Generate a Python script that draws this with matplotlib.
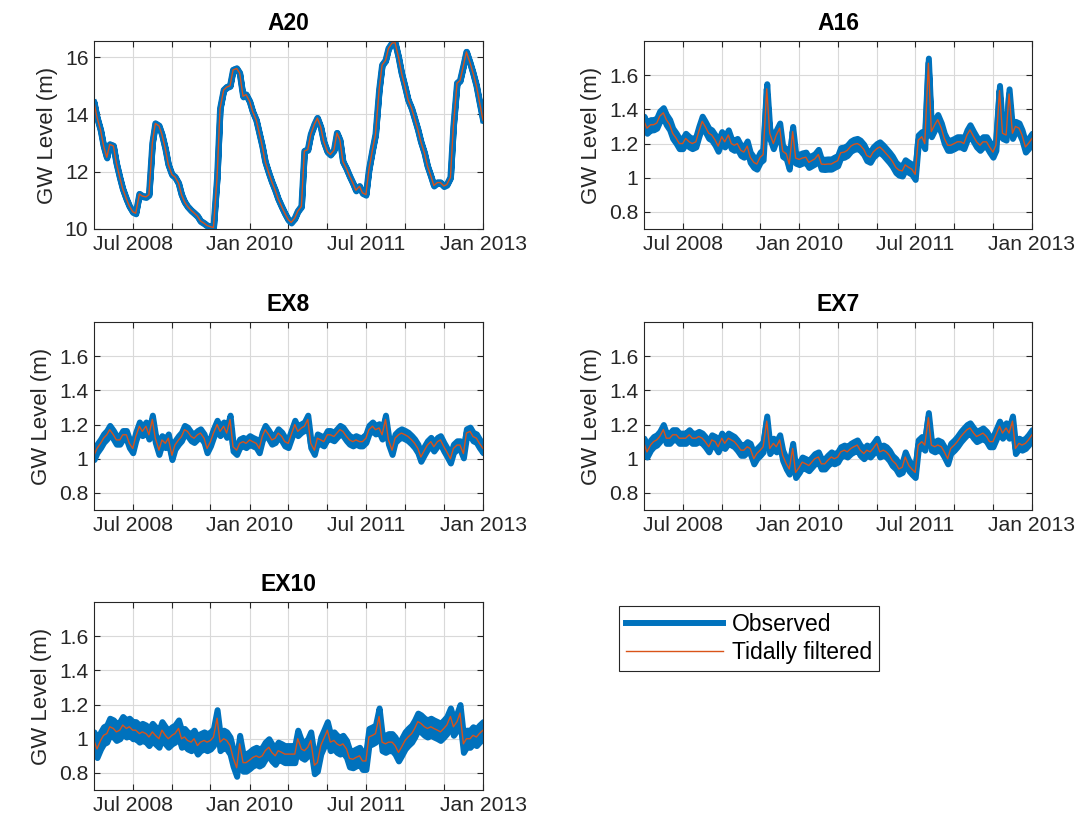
import numpy as np
import pandas as pd
import matplotlib
matplotlib.use('Agg')
import matplotlib.pyplot as plt
from matplotlib.ticker import FuncFormatter

plt.rcParams['font.family'] = ['Liberation Sans', 'DejaVu Sans']

# semi-monthly samples, Jan 2008 - Jan 2013 (121 points)
dates = pd.date_range('2008-01-01', '2013-01-01', freq='SMS')

stations = ['A20', 'A16', 'EX8', 'EX7', 'EX10']

# tidally filtered levels (m)
a20 = [14.42, 13.9, 13.45, 12.9, 12.5, 12.95, 12.9, 12.3, 11.8, 11.4, 11.05, 10.8,
       10.6, 10.55, 11.22, 11.15, 11.12, 11.2, 13.0, 13.68, 13.6, 13.3, 12.8, 12.25,
       11.9, 11.82, 11.6, 11.2, 10.95, 10.79, 10.65, 10.56, 10.45, 10.28, 10.2, 10.12,
       10.08, 10.05, 11.8, 14.2, 14.85, 14.95, 15.0, 15.55, 15.6, 15.44, 14.63, 14.69,
       14.45, 14.1, 13.8, 13.35, 12.9, 12.35, 11.95, 11.65, 11.35, 11.05, 10.77, 10.55,
       10.33, 10.23, 10.38, 10.62, 10.79, 12.72, 12.77, 13.3, 13.65, 13.87, 13.55, 13.05,
       12.7, 12.6, 12.75, 13.35, 13.1, 12.35, 12.1, 11.85, 11.6, 11.35, 11.49, 11.26,
       11.2, 12.07, 12.77, 13.3, 14.85, 15.72, 15.88, 16.3, 16.49, 16.5, 16.0, 15.45,
       14.95, 14.51, 14.2, 13.85, 13.47, 13.05, 12.65, 12.2, 11.85, 11.52, 11.62, 11.62,
       11.5, 11.55, 11.8, 13.6, 15.09, 15.18, 15.7, 16.18, 15.8, 15.45, 15.0, 14.45,
       13.8]

a16 = [1.33, 1.29, 1.31, 1.31, 1.32, 1.36, 1.38, 1.34, 1.31, 1.26, 1.23, 1.20,
       1.20, 1.23, 1.21, 1.20, 1.21, 1.27, 1.33, 1.30, 1.26, 1.25, 1.22, 1.185,
       1.24, 1.21, 1.25, 1.20, 1.19, 1.20, 1.16, 1.15, 1.185, 1.12, 1.09, 1.08,
       1.12, 1.135, 1.52, 1.26, 1.20, 1.25, 1.29, 1.155, 1.14, 1.08, 1.27, 1.115,
       1.107, 1.115, 1.12, 1.09, 1.10, 1.11, 1.136, 1.08, 1.078, 1.08, 1.08, 1.09,
       1.10, 1.146, 1.15, 1.16, 1.185, 1.195, 1.20, 1.19, 1.165, 1.13, 1.12, 1.15,
       1.17, 1.18, 1.16, 1.14, 1.12, 1.097, 1.06, 1.045, 1.04, 1.075, 1.06, 1.05,
       1.02, 1.22, 1.24, 1.20, 1.67, 1.27, 1.31, 1.34, 1.29, 1.23, 1.19, 1.19,
       1.20, 1.21, 1.21, 1.20, 1.25, 1.28, 1.24, 1.21, 1.19, 1.21, 1.21, 1.18,
       1.15, 1.19, 1.51, 1.26, 1.25, 1.49, 1.26, 1.30, 1.29, 1.25, 1.18, 1.20,
       1.23]

ex8 = [1.02, 1.06, 1.09, 1.12, 1.14, 1.17, 1.14, 1.11, 1.11, 1.14, 1.14, 1.09,
       1.06, 1.13, 1.19, 1.16, 1.19, 1.14, 1.23, 1.12, 1.05, 1.11, 1.09, 1.12,
       1.02, 1.08, 1.11, 1.13, 1.17, 1.16, 1.13, 1.12, 1.14, 1.15, 1.12, 1.06,
       1.10, 1.15, 1.20, 1.16, 1.19, 1.15, 1.23, 1.07, 1.05, 1.09, 1.10, 1.09,
       1.11, 1.10, 1.09, 1.06, 1.13, 1.17, 1.14, 1.11, 1.12, 1.15, 1.13, 1.10,
       1.09, 1.14, 1.20, 1.16, 1.18, 1.19, 1.23, 1.09, 1.05, 1.12, 1.11, 1.10,
       1.14, 1.14, 1.13, 1.15, 1.17, 1.16, 1.13, 1.11, 1.10, 1.11, 1.10, 1.10,
       1.12, 1.17, 1.19, 1.17, 1.18, 1.14, 1.23, 1.11, 1.05, 1.12, 1.14, 1.15,
       1.14, 1.13, 1.11, 1.09, 1.06, 1.01, 1.05, 1.08, 1.10, 1.07, 1.10, 1.11,
       1.07, 1.04, 1.00, 1.06, 1.08, 1.08, 1.03, 1.15, 1.16, 1.13, 1.12, 1.09,
       1.06]

ex7 = [1.09, 1.04, 1.08, 1.10, 1.11, 1.13, 1.17, 1.12, 1.12, 1.14, 1.14, 1.12,
       1.12, 1.12, 1.14, 1.12, 1.12, 1.13, 1.12, 1.10, 1.07, 1.11, 1.10, 1.07,
       1.12, 1.09, 1.12, 1.11, 1.10, 1.08, 1.05, 1.05, 1.07, 1.06, 1.00, 1.03,
       1.05, 1.07, 1.22, 1.06, 1.09, 1.07, 1.11, 1.02, 0.97, 0.94, 1.06, 0.92,
       0.95, 0.98, 0.97, 0.96, 0.98, 1.00, 1.01, 0.97, 0.97, 0.99, 1.01, 1.00,
       1.01, 1.04, 1.05, 1.04, 1.06, 1.07, 1.08, 1.05, 1.03, 1.05, 1.04, 1.06,
       1.09, 1.04, 1.05, 1.04, 1.02, 0.99, 0.97, 0.94, 0.95, 1.01, 0.96, 0.94,
       0.92, 1.08, 1.10, 1.08, 1.24, 1.08, 1.07, 1.08, 1.07, 1.04, 1.00, 1.06,
       1.08, 1.10, 1.13, 1.15, 1.17, 1.18, 1.15, 1.13, 1.14, 1.15, 1.13, 1.10,
       1.10, 1.14, 1.19, 1.15, 1.18, 1.15, 1.22, 1.06, 1.09, 1.08, 1.09, 1.11,
       1.14]

ex10 = [0.99, 0.94, 0.99, 1.02, 1.03, 1.07, 1.06, 1.04, 1.05, 1.08, 1.06, 1.07,
        1.05, 1.05, 1.03, 1.04, 1.03, 1.01, 1.04, 1.02, 1.00, 1.05, 1.02, 1.00,
        1.02, 1.03, 1.06, 1.00, 1.01, 0.99, 0.98, 1.00, 0.96, 0.98, 0.99, 0.98,
        0.99, 1.01, 1.12, 0.98, 1.00, 0.99, 0.96, 0.89, 0.83, 0.97, 0.86, 0.86,
        0.875, 0.89, 0.90, 0.89, 0.90, 0.93, 0.95, 0.92, 0.90, 0.93, 0.92, 0.91,
        0.91, 0.91, 0.91, 1.00, 0.94, 0.93, 0.95, 0.99, 0.845, 0.86, 0.96, 1.00,
        1.05, 0.98, 0.99, 0.97, 0.96, 0.97, 0.94, 0.885, 0.88, 0.89, 0.90, 0.87,
        0.87, 1.01, 1.02, 1.03, 1.13, 0.98, 0.97, 0.98, 0.98, 0.96, 0.92, 0.95,
        0.99, 1.01, 1.03, 1.06, 1.10, 1.09, 1.07, 1.06, 1.07, 1.06, 1.05, 1.04,
        1.06, 1.08, 1.13, 1.07, 1.10, 1.15, 0.97, 1.00, 1.00, 1.02, 1.01, 1.03,
        1.05]

filtered = [a20, a16, ex8, ex7, ex10]

# half of the tidal swing seen in the observed record (m)
tide_half_range = [0.02, 0.03, 0.025, 0.03, 0.05]

tick_dates = pd.date_range('2008-07-01', '2013-01-01', freq='6MS')
tick_labels = ['Jul 2008', '', '', 'Jan 2010', '', '', 'Jul 2011', '', '', 'Jan 2013']

W, H = 1086.0, 816.0
# axes boxes in pixels: left, top, width, height
boxes = [(94, 41, 389, 188), (644, 41, 388, 188),
         (94, 322, 389, 188), (644, 322, 388, 188),
         (94, 602, 389, 188)]

blue = '#0072BD'
orange = '#D95319'
dark = '#262626'

fig = plt.figure(figsize=(10.86, 8.16), dpi=100)

axes = []
for i, name in enumerate(stations):
    l, t, w, h = boxes[i]
    ax = fig.add_axes([l / W, 1 - (t + h) / H, w / W, h / H])
    y = np.array(filtered[i])
    d = tide_half_range[i]

    ax.fill_between(dates, y - d, y + d, facecolor=blue, edgecolor=blue, lw=4.3)
    ax.plot(dates, y, color=blue, lw=4.3, solid_joinstyle='round', label='Observed')
    ax.plot(dates, y, color=orange, lw=1.0, label='Tidally filtered')

    ax.set_xlim(dates[0], dates[-1])
    if name == 'A20':
        ax.set_ylim(10, 16.56)
        ax.set_yticks([10, 12, 14, 16])
    else:
        ax.set_ylim(0.7, 1.8)
        ax.set_yticks([0.8, 1.0, 1.2, 1.4, 1.6])
    ax.yaxis.set_major_formatter(FuncFormatter(lambda v, p: '%g' % v))
    ax.set_xticks(tick_dates)
    ax.set_xticklabels(tick_labels)

    ax.grid(True, color='#d9d9d9', lw=0.8)
    ax.set_axisbelow(True)
    ax.tick_params(direction='in', top=True, right=True, length=4, width=0.8,
                   colors=dark, labelsize=15.2, pad=4)
    for s in ax.spines.values():
        s.set_color(dark)
        s.set_linewidth(0.8)

    ax.set_ylabel('GW Level (m)', fontsize=16, color=dark, labelpad=5)
    ax.set_title(name, fontsize=16.5, fontweight='bold', pad=8)
    axes.append(ax)

handles, labels = axes[0].get_legend_handles_labels()
leg = fig.legend(handles, labels, loc='upper left',
                 bbox_to_anchor=(619 / W, 1 - 606 / H), borderaxespad=0,
                 fontsize=16.5, handlelength=4.2, handletextpad=0.4,
                 borderpad=0.32, labelspacing=0.2, fancybox=False,
                 edgecolor=dark, framealpha=1)
leg.get_frame().set_linewidth(0.8)

fig.savefig('out.png', dpi=100, facecolor='white')
